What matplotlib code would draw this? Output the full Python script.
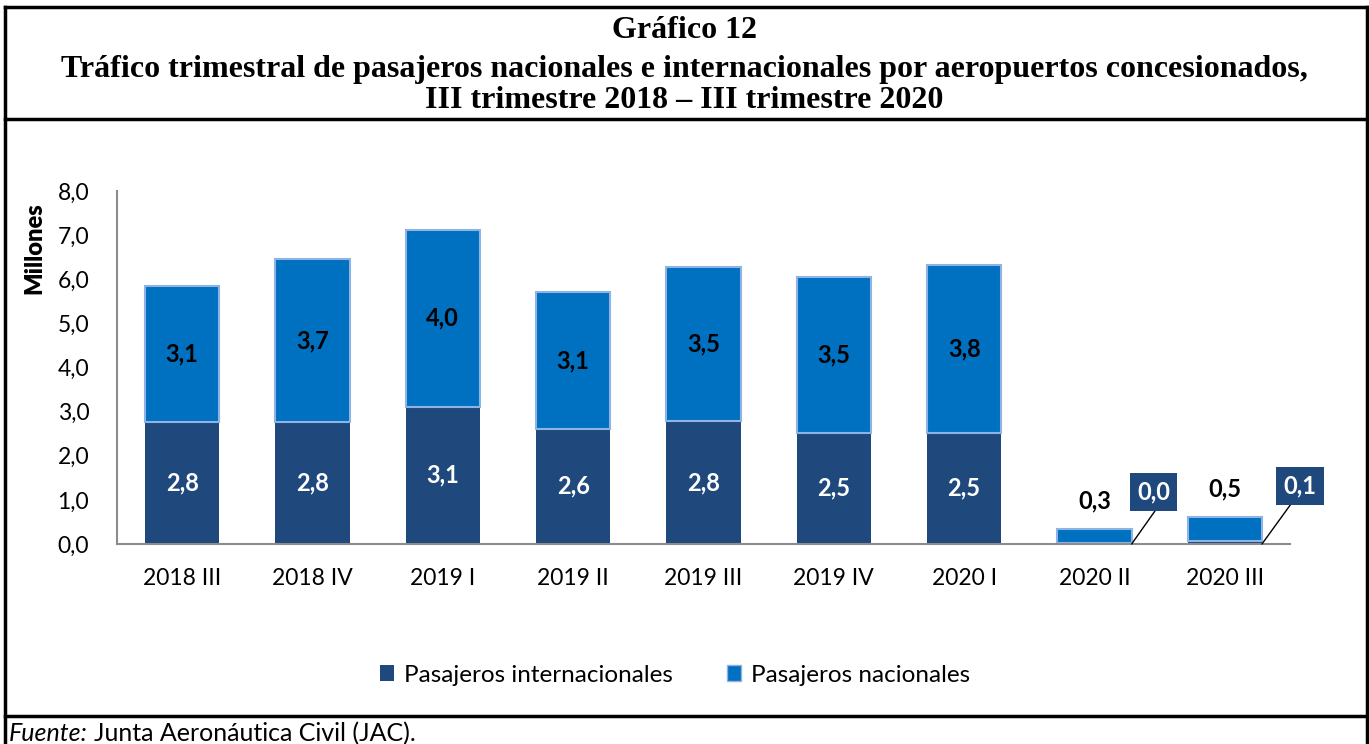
import numpy as np
import matplotlib
matplotlib.use("Agg")
import matplotlib.pyplot as plt
from matplotlib.patches import Patch
from matplotlib.lines import Line2D
from matplotlib.ticker import FuncFormatter

# Data (millones de pasajeros)
trimestres = ["2018 III", "2018 IV", "2019 I", "2019 II", "2019 III",
              "2019 IV", "2020 I", "2020 II", "2020 III"]
internacionales = [2.77, 2.77, 3.11, 2.61, 2.79, 2.52, 2.52, 0.02, 0.07]
nacionales = [3.08, 3.68, 4.01, 3.10, 3.49, 3.54, 3.81, 0.32, 0.54]

c_int = "#1F497D"
c_nac = "#0070C0"
sans = "Lato"

def coma(v, pos=None):
    return f"{v:.1f}".replace(".", ",")

fig = plt.figure(figsize=(13.69, 7.44), dpi=100)
W, H = 1369, 744
ax = fig.add_axes([117 / W, 1 - 544 / H, (1290 - 117) / W, (544 - 191) / H])

x = np.arange(len(trimestres))
w = 0.57
ax.bar(x, internacionales, w, color=c_int, zorder=2)
ax.bar(x, nacionales, w, bottom=internacionales, color=c_nac,
       edgecolor="#8FB4E3", linewidth=1.5, zorder=2)

# etiquetas de datos
for i in range(len(x)):
    it, na = internacionales[i], nacionales[i]
    if it > 1:
        ax.text(x[i], it / 2, coma(it), ha="center", va="center", color="white",
                fontsize=17, fontweight="bold", family=sans)
        ax.text(x[i], it + na / 2, coma(na), ha="center", va="center", color="black",
                fontsize=17, fontweight="bold", family=sans)
    else:
        ax.annotate(coma(na), (x[i], it + na), xytext=(0, 28), textcoords="offset pixels",
                    ha="center", va="center", fontsize=17, fontweight="bold", family=sans)

# cajas para internacionales pequeños (desplazamiento en píxeles desde la esquina del bar)
offs = {7: (22, 52, 0.7), 8: (38, 58, 0.37)}
for i, (dx, dy, rp) in offs.items():
    ax.annotate(coma(internacionales[i]), (x[i] + w / 2, 0), xytext=(dx, dy),
                textcoords="offset pixels", ha="center", va="center", color="white",
                fontsize=17, fontweight="bold", family=sans,
                bbox=dict(boxstyle="square,pad=0.3", fc=c_int, ec="none"),
                arrowprops=dict(arrowstyle="-", color="black", lw=1, shrinkA=0, shrinkB=0,
                                relpos=(rp, 0)))

ax.set_ylim(0, 8)
ax.set_xlim(-0.5, len(x) - 0.5)
ax.set_yticks(np.arange(0, 9, 1))
ax.yaxis.set_major_formatter(FuncFormatter(coma))
ax.set_xticks(x)
ax.set_xticklabels(trimestres)
for s in ["top", "right"]:
    ax.spines[s].set_visible(False)
for s in ["left", "bottom"]:
    ax.spines[s].set_color("#8C8C8C")
    ax.spines[s].set_linewidth(1.5)
ax.tick_params(axis="both", length=0, labelsize=16.5)
ax.yaxis.set_tick_params(pad=20)
ax.xaxis.set_tick_params(pad=17)
for lab in ax.get_xticklabels() + ax.get_yticklabels():
    lab.set_family(sans)

fig.text(34 / W, 1 - 248 / H, "Millones", rotation=90, ha="center", va="center",
         fontsize=17, fontweight="heavy", family=sans)

# título
tit = dict(ha="center", va="center", fontsize=23, fontweight="bold", family="Liberation Serif")
fig.text(0.5, 1 - 30 / H, "Gráfico 12", **tit)
fig.text(0.5, 1 - 69 / H, "Tráfico trimestral de pasajeros nacionales e internacionales por aeropuertos concesionados,", **tit)
fig.text(0.5, 1 - 101 / H, "III trimestre 2018 – III trimestre 2020", **tit)

# leyenda
handles = [Patch(facecolor=c_int), Patch(facecolor=c_nac, edgecolor="#8FB4E3")]
fig.legend(handles, ["Pasajeros internacionales", "Pasajeros nacionales"],
           loc="center", bbox_to_anchor=(0.493, 1 - 675 / H), ncol=2, frameon=False,
           prop={"family": sans, "size": 17.5}, handlelength=0.6, handleheight=0.6,
           handletextpad=0.4, columnspacing=2.2)

# marco
lk = dict(color="black", lw=2.5, transform=fig.transFigure)
fig.add_artist(Line2D([5 / W, 5 / W], [0, 1 - 7 / H], **lk))
fig.add_artist(Line2D([1367 / W, 1367 / W], [0, 1 - 7 / H], **lk))
fig.add_artist(Line2D([5 / W, 1367 / W], [1 - 7 / H, 1 - 7 / H], **lk))
fig.add_artist(Line2D([5 / W, 1367 / W], [1 - 119 / H, 1 - 119 / H], **lk))
fig.add_artist(Line2D([5 / W, 1367 / W], [1 - 716 / H, 1 - 716 / H], **lk))

# fuente
t1 = fig.text(9 / W, 1 - 741 / H, "Fuente:", fontsize=18, style="italic", family=sans, va="baseline")
fig.canvas.draw()
bb = t1.get_window_extent()
fig.text((bb.x1 + 6) / W, 1 - 741 / H, "Junta Aeronáutica Civil (JAC).", fontsize=18,
         family=sans, va="baseline")

fig.savefig("out.png", dpi=100)
